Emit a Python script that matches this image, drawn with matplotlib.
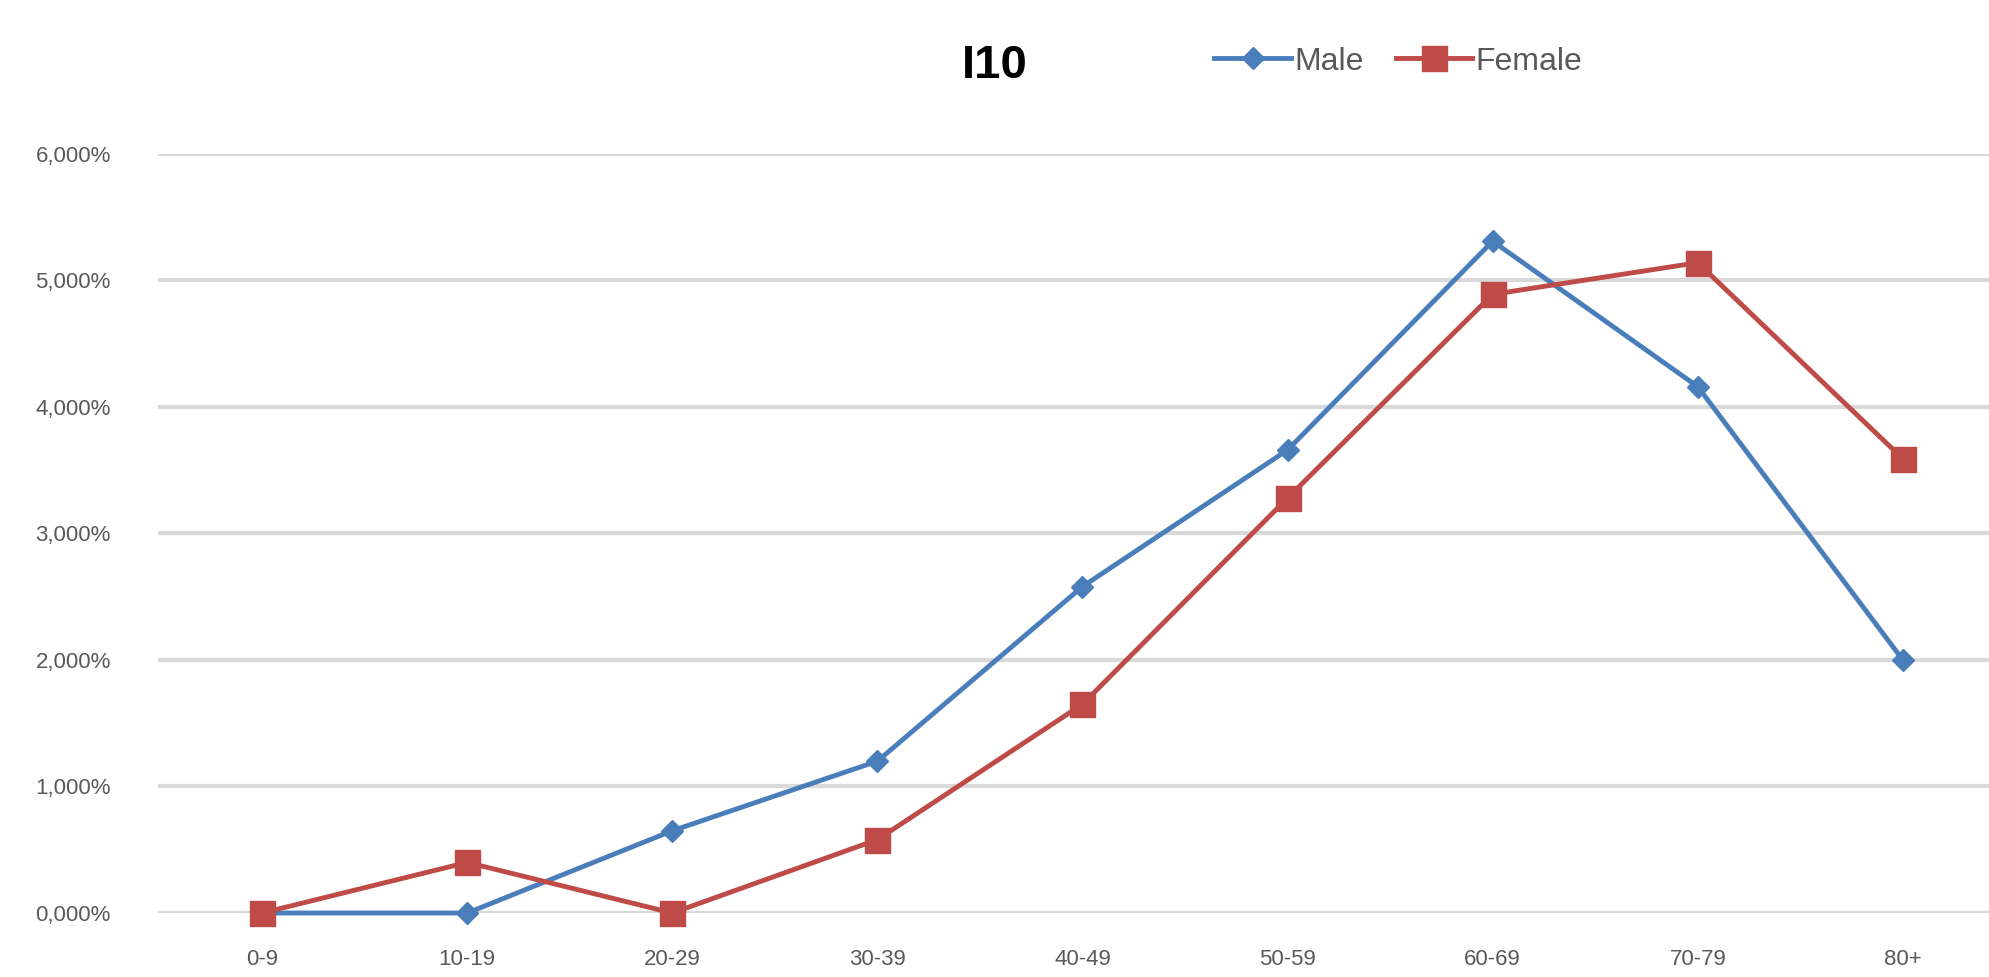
import matplotlib
matplotlib.use("Agg")
import matplotlib.pyplot as plt

# data
ages = ["0-9", "10-19", "20-29", "30-39", "40-49", "50-59", "60-69", "70-79", "80+"]
male = [0.0, 0.0, 0.65, 1.20, 2.58, 3.66, 5.31, 4.16, 2.00]
female = [0.0, 0.40, 0.0, 0.58, 1.65, 3.28, 4.89, 5.14, 3.59]
yticks = [0, 1, 2, 3, 4, 5, 6]
ylabels = ["0,000%", "1,000%", "2,000%", "3,000%", "4,000%", "5,000%", "6,000%"]

plt.rcParams["font.family"] = ["Liberation Sans", "DejaVu Sans"]

fig = plt.figure(figsize=(19.89, 9.77), dpi=100)
ax = fig.add_axes([0.0795, 0.0655, 0.9205, 0.777])

x = list(range(len(ages)))
ax.plot(x, male, color="#4A7EBB", linewidth=3.5, marker="D", markersize=11,
        label="Male", clip_on=False, zorder=3)
ax.plot(x, female, color="#BE4B48", linewidth=3.5, marker="s", markersize=18,
        label="Female", clip_on=False, zorder=4)

ax.set_xlim(-0.507, 8.42)
ax.set_ylim(0, 6)
ax.set_yticks(yticks)
ax.set_yticklabels(ylabels)
ax.set_xticks(x)
ax.set_xticklabels(ages)
ax.grid(axis="y", color="#D9D9D9", linewidth=3)
ax.set_axisbelow(True)
for s in ax.spines.values():
    s.set_visible(False)
ax.tick_params(length=0, labelsize=16, labelcolor="#595959")
ax.tick_params(axis="y", pad=34)
ax.tick_params(axis="x", pad=26)

fig.text(0.5, 0.932, "I10", ha="center", va="center", fontsize=34, fontweight="bold")
fig.legend(loc="center", bbox_to_anchor=(0.703, 0.937), ncol=2, frameon=False,
           fontsize=23, labelcolor="#595959", handlelength=2.4, columnspacing=1.0,
           handletextpad=0.1)

fig.savefig("out.png", dpi=100)
